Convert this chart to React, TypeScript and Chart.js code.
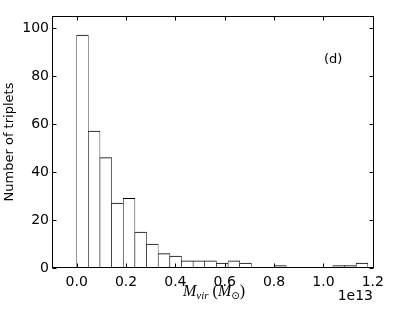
import { useEffect, useRef } from 'react';
import { Chart, registerables } from 'chart.js';

Chart.register(...registerables);

// ---- data (x in units of 1e13 solar masses) ----
const binStart = 0;
const binWidth = 0.0472;
const counts = [97, 57, 46, 27, 29, 15, 10, 6, 5, 3, 3, 3, 2, 3, 2, 0, 0, 1, 0, 0, 0, 0, 1, 1, 2];
const xTicks = [0, 0.2, 0.4, 0.6, 0.8, 1.0, 1.2];
const yTicks = [0, 20, 40, 60, 80, 100];
const xRange = [-0.1, 1.205];
const yRange = [0, 105];
const yTitle = 'Number of triplets';
const panelLabel = '(d)';
const offsetLabel = '1e13';

const framePlugin = {
  id: 'frame',
  afterDraw(chart: any) {
    const { ctx, chartArea: a, scales } = chart;
    const xs = scales.x;
    const ys = scales.y;
    ctx.save();
    ctx.strokeStyle = '#000';
    ctx.lineWidth = 1;
    const L = Math.round(a.left) + 0.5;
    const R = Math.round(a.right) - 0.5;
    const T = Math.round(a.top) + 0.5;
    const B = Math.round(a.bottom) - 0.5;
    ctx.strokeRect(L, T, R - L, B - T);
    const tl = 4;
    ctx.beginPath();
    for (const v of xTicks) {
      const px = Math.round(xs.getPixelForValue(v)) + 0.5;
      ctx.moveTo(px, B); ctx.lineTo(px, B - tl);
      ctx.moveTo(px, T); ctx.lineTo(px, T + tl);
    }
    for (const v of yTicks) {
      const py = Math.round(ys.getPixelForValue(v)) + 0.5;
      ctx.moveTo(L, py); ctx.lineTo(L + tl, py);
      ctx.moveTo(R, py); ctx.lineTo(R - tl, py);
    }
    ctx.stroke();

    ctx.fillStyle = '#000';
    // panel label
    ctx.font = '13px "DejaVu Sans"';
    ctx.textAlign = 'left';
    ctx.textBaseline = 'alphabetic';
    ctx.fillText(panelLabel, 324, 63);
    // offset label
    ctx.font = '14px "DejaVu Sans"';
    ctx.textAlign = 'right';
    ctx.fillText(offsetLabel, 373, 300);

    // x title: M_vir (M_sun)
    const base = 296;
    const big = 'italic 16px "Liberation Serif"';
    const up = '16px "Liberation Serif"';
    const small = 'italic 11px "Liberation Serif"';
    const smallUp = '10px "DejaVu Sans"';
    const parts: [string, string, number][] = [
      ['M', big, 0],
      ['vir', small, 3],
      [' (', up, 0],
      ['M', big, 0],
      ['\u2299', smallUp, 3],
      [')', up, 0],
    ];
    let total = 0;
    for (const [t, f] of parts) { ctx.font = f; total += ctx.measureText(t).width; }
    let cx = 214 - total / 2;
    ctx.textAlign = 'left';
    for (const [t, f, dy] of parts) {
      ctx.font = f;
      ctx.fillText(t, cx, base + dy);
      cx += ctx.measureText(t).width;
    }
    ctx.restore();
  },
};

export default function App() {
  const ref = useRef<HTMLCanvasElement>(null);
  useEffect(() => {
    document.body.style.margin = '0';
    const data = counts
      .map((c, i) => ({ x: binStart + (i + 0.5) * binWidth, y: c }))
      .filter((d) => d.y > 0);
    const chart = new Chart(ref.current!, {
      type: 'bar',
      data: {
        datasets: [
          {
            data: data as any,
            backgroundColor: '#ffffff',
            borderColor: '#000000',
            borderWidth: { top: 1, left: 0.6, right: 0.6, bottom: 0 } as any,
            borderSkipped: false,
            barPercentage: 1,
            categoryPercentage: 1,
          },
        ],
      },
      options: {
        responsive: false,
        animation: false,
        layout: { padding: { left: 0, right: 41, top: 16, bottom: 0 } },
        plugins: { legend: { display: false }, tooltip: { enabled: false } },
        scales: {
          x: {
            type: 'linear',
            min: xRange[0],
            max: xRange[1],
            offset: false,
            grid: { display: false, drawTicks: false, offset: false },
            border: { display: false },
            afterBuildTicks: (s: any) => { s.ticks = xTicks.map((v) => ({ value: v })); },
            afterFit: (s: any) => { s.height = 44; },
            ticks: {
              autoSkip: false,
              maxRotation: 0,
              padding: 6,
              color: '#000',
              font: { family: '"DejaVu Sans"', size: 14 },
              callback: (v: any) => Number(v).toFixed(1),
            },
          },
          y: {
            min: yRange[0],
            max: yRange[1],
            grid: { display: false, drawTicks: false },
            border: { display: false },
            afterBuildTicks: (s: any) => { s.ticks = yTicks.map((v) => ({ value: v })); },
            afterFit: (s: any) => { s.width = 52; },
            ticks: {
              padding: 3,
              color: '#000',
              font: { family: '"DejaVu Sans"', size: 14 },
            },
            title: {
              display: true,
              text: yTitle,
              color: '#000',
              padding: { top: 2, bottom: 0 },
              font: { family: '"DejaVu Sans"', size: 13 },
            },
          },
        },
      },
      plugins: [framePlugin],
    });
    return () => chart.destroy();
  }, []);
  return (
    <div style={{ position: 'absolute', left: 0, top: 0, width: 415, height: 312, background: '#fff' }}>
      <canvas ref={ref} width={415} height={312} />
    </div>
  );
}
